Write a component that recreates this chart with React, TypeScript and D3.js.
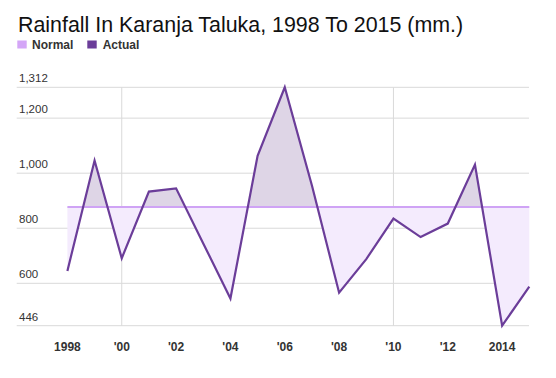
import React from "react";
import * as d3 from "d3";

const years = [1998,1999,2000,2001,2002,2003,2004,2005,2006,2007,2008,2009,2010,2011,2012,2013,2014,2015];
const actual = [645,1046,691,933,945,745,545,1063,1312,955,566,688,835,768,817,1031,446,588];
const normal = 877;
const yTicks = [446,600,800,1000,1200,1312];
const xTicks = [1998,2000,2002,2004,2006,2008,2010,2012,2014];
const xTickLabels = ["1998","'00","'02","'04","'06","'08","'10","'12","2014"];
const vGrid = [2000, 2010];

const W = 556, H = 378;

export default function App() {
  const x = d3.scaleLinear().domain([1998, 2015]).range([67.4, 529.3]);
  const y = d3.scaleLinear().domain([446, 1312]).range([325.7, 87.3]);
  const yN = y(normal);
  const pts = years.map((yr, i) => [yr, actual[i]] as [number, number]);
  const area = d3.area<[number, number]>().x(d => x(d[0])).y0(yN).y1(d => y(d[1]));
  const line = d3.line<[number, number]>().x(d => x(d[0])).y(d => y(d[1]));
  const font = "Arial, 'Liberation Sans', sans-serif";
  return (
    <svg width={W} height={H} style={{ position: "absolute", left: 0, top: 0 }} fontFamily={font}>
      <defs>
        <clipPath id="above"><rect x={0} y={0} width={W} height={yN} /></clipPath>
        <clipPath id="below"><rect x={0} y={yN} width={W} height={H - yN} /></clipPath>
      </defs>
      <rect width={W} height={H} fill="#fff" />
      <text x={18} y={31.5} fontSize={21.4} fill="#111">Rainfall In Karanja Taluka, 1998 To 2015 (mm.)</text>
      <rect x={17.3} y={40.5} width={9.4} height={8} fill="#d4a6f7" />
      <text x={32} y={48.5} fontSize={12} fontWeight="bold" fill="#333">Normal</text>
      <rect x={87.3} y={40.5} width={9.4} height={8} fill="#6b3d99" />
      <text x={102.7} y={48.5} fontSize={12} fontWeight="bold" fill="#333">Actual</text>
      {yTicks.map(t => (
        <g key={t}>
          <line x1={16.7} x2={529} y1={y(t)} y2={y(t)} stroke="#d9d9d9" strokeWidth={1} />
          <text x={19} y={y(t) - 5} fontSize={11.5} fill="#333">{d3.format(",")(t)}</text>
        </g>
      ))}
      {vGrid.map(t => (
        <line key={t} x1={x(t)} x2={x(t)} y1={y(1312)} y2={y(446)} stroke="#d9d9d9" strokeWidth={1} />
      ))}
      <path d={area(pts) || ""} fill="#ded5e6" clipPath="url(#above)" />
      <path d={area(pts) || ""} fill="#f4ebfd" clipPath="url(#below)" />
      <line x1={x(1998)} x2={x(2015)} y1={yN} y2={yN} stroke="#cfa3f5" strokeWidth={2} />
      <path d={line(pts) || ""} fill="none" stroke="#6b3d99" strokeWidth={2.2} strokeLinejoin="miter" />
      {xTicks.map((t, i) => (
        <text key={t} x={x(t)} y={350.5} fontSize={12} fontWeight="bold" fill="#333" textAnchor="middle">{xTickLabels[i]}</text>
      ))}
    </svg>
  );
}
